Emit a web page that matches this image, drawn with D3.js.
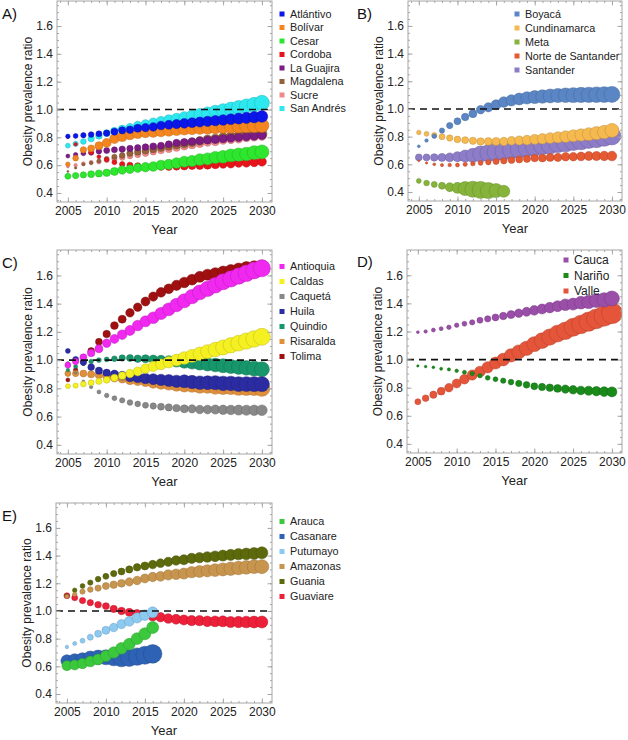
<!DOCTYPE html>
<html><head><meta charset="utf-8">
<script src="https://cdn.jsdelivr.net/npm/d3@7"></script>
<style>
body{margin:0;background:#fff;}
text{font-family:"Liberation Sans",Arial,sans-serif;}
</style></head>
<body><svg id="c" width="628" height="740"></svg>
<script>
// ---------- DATA ----------
const years = [2005,2006,2007,2008,2009,2010,2011,2012,2013,2014,2015,2016,2017,2018,2019,2020,2021,2022,2023,2024,2025,2026,2027,2028,2029,2030];
const yearsShort = [2005,2006,2007,2008,2009,2010,2011,2012,2013,2014,2015,2016];
const yTicks = [0.4,0.6,0.8,1.0,1.2,1.4,1.6];
const xTicks = [2005,2010,2015,2020,2025,2030];

// Panel A
const atlanticoVal = [0.807,0.81,0.815,0.82,0.825,0.83,0.84,0.85,0.855,0.865,0.87,0.875,0.885,0.89,0.895,0.9,0.905,0.91,0.915,0.92,0.925,0.93,0.935,0.94,0.945,0.95];
const atlanticoW = [5,6,7,8,9,10,12,13,14,16,17,18,19,20,21,23,24,25,26,27,28,29,30,31,32,34];
const bolivarVal = [0.607,0.65,0.71,0.72,0.74,0.76,0.79,0.805,0.82,0.83,0.837,0.84,0.845,0.85,0.855,0.86,0.863,0.866,0.869,0.872,0.875,0.877,0.879,0.881,0.883,0.885];
const bolivarW = [5,8,10,12,16,20,23,25,27,29,30,31,32,34,35,36,37,38,40,41,42,44,45,46,48,49];
const cesarVal = [0.52,0.525,0.53,0.535,0.54,0.545,0.555,0.565,0.57,0.58,0.585,0.59,0.6,0.605,0.615,0.625,0.63,0.64,0.645,0.655,0.66,0.67,0.675,0.68,0.69,0.695];
const cesarW = [9,10,10,12,13,14,16,18,18,20,22,23,25,26,28,30,31,34,36,37,40,41,44,45,48,49];
const cordobaVal = [0.8,0.75,0.71,0.69,0.66,0.64,0.62,0.607,0.6,0.595,0.593,0.59,0.588,0.587,0.59,0.592,0.595,0.597,0.6,0.603,0.607,0.61,0.615,0.617,0.62,0.625];
const cordobaW = [2,3,5,5,4,5,6,7,9,10,10,11,12,12,13,14,14,15,16,16,17,18,18,19,19,20];
const guajiraVal = [0.665,0.675,0.685,0.69,0.7,0.705,0.71,0.715,0.72,0.725,0.73,0.735,0.74,0.75,0.76,0.765,0.77,0.775,0.78,0.785,0.79,0.795,0.8,0.805,0.81,0.815];
const guajiraW = [4,5,6,7,8,9,9,10,10,10,11,12,12,12,13,14,14,14,15,16,16,17,17,18,18,18];
const magdalenaVal = [0.555,0.58,0.605,0.615,0.63,0.645,0.66,0.67,0.685,0.695,0.705,0.715,0.725,0.735,0.745,0.755,0.765,0.775,0.785,0.79,0.8,0.805,0.81,0.815,0.82,0.825];
const magdalenaW = [1,1.4,2,3,4,6,7,8,10,11,12,13,14,15,16,18,18,19,20,21,22,23,23,24,25,25];
const sucreVal = [0.59,0.6,0.61,0.62,0.625,0.635,0.645,0.655,0.665,0.675,0.685,0.695,0.705,0.715,0.725,0.735,0.745,0.755,0.765,0.77,0.78,0.785,0.79,0.8,0.805,0.81];
const sucreW = [2,3,4,4,5,6,7,8,8,9,10,10,11,12,13,14,15,16,17,18,18,18,19,19,20,20];
const sanAndresVal = [0.74,0.753,0.77,0.79,0.81,0.83,0.845,0.86,0.87,0.885,0.895,0.905,0.915,0.925,0.935,0.945,0.955,0.965,0.975,0.985,0.995,1.005,1.015,1.025,1.035,1.048];
const sanAndresW = [6,7,8,10,11,12,14,15,17,18,20,22,24,26,28,30,32,35,37,40,42,45,48,50,53,56];

// Panel B
const boyacaVal = [0.73,0.772,0.803,0.844,0.88,0.911,0.942,0.966,0.995,1.012,1.03,1.05,1.062,1.072,1.08,1.086,1.09,1.094,1.097,1.099,1.1,1.101,1.102,1.103,1.104,1.105];
const boyacaW = [2,3,5,7,10,12,14,16,18,21,25,28,31,35,38,42,45,48,50,53,56,58,59,61,62,64];
const cundinamarcaVal = [0.83,0.82,0.81,0.8,0.79,0.78,0.775,0.77,0.765,0.765,0.765,0.765,0.77,0.772,0.775,0.78,0.785,0.79,0.795,0.8,0.806,0.812,0.818,0.825,0.833,0.845];
const cundinamarcaW = [5,6,7,9,10,11,12,13,14,15,16,18,19,21,23,25,27,29,31,34,36,38,41,44,46,49];
const metaVal = [0.48,0.465,0.455,0.445,0.435,0.43,0.425,0.42,0.415,0.41,0.41,0.405];
const metaW = [6,8,9,12,20,30,49,64,72,64,49,36];
const norteVal = [0.625,0.61,0.6,0.595,0.595,0.595,0.6,0.605,0.61,0.615,0.62,0.625,0.63,0.635,0.64,0.645,0.645,0.65,0.65,0.655,0.655,0.657,0.66,0.66,0.66,0.66];
const norteW = [1,1.4,2,2.6,3.2,4,4.4,5,6,7,9,10,11,12,13,14,15,16,17,18,18,19,20,21,22,23];
const santanderVal = [0.65,0.65,0.65,0.65,0.65,0.655,0.66,0.665,0.675,0.68,0.69,0.695,0.705,0.71,0.72,0.725,0.735,0.74,0.75,0.755,0.765,0.77,0.78,0.785,0.795,0.805];
const santanderW = [12,12,14,16,20,25,36,49,64,72,81,81,81,81,81,81,81,81,81,81,81,81,81,81,81,81];

// Panel C
const antioquiaVal = [0.965,0.99,1.02,1.05,1.08,1.12,1.15,1.18,1.21,1.245,1.275,1.3,1.33,1.36,1.39,1.42,1.45,1.48,1.505,1.53,1.555,1.575,1.595,1.615,1.635,1.65];
const antioquiaW = [9,10,12,14,16,18,20,23,25,28,30,34,37,41,45,49,52,55,58,61,64,66,67,69,71,72];
const caldasVal = [0.815,0.82,0.83,0.84,0.85,0.86,0.875,0.89,0.905,0.92,0.94,0.955,0.97,0.985,1.0,1.015,1.03,1.045,1.06,1.075,1.09,1.105,1.12,1.135,1.15,1.165];
const caldasW = [6,7,8,9,10,11,13,15,18,20,23,26,29,32,36,40,42,46,49,53,56,59,62,66,69,72];
const caquetaVal = [0.98,0.91,0.85,0.81,0.775,0.75,0.73,0.715,0.7,0.69,0.68,0.675,0.67,0.665,0.66,0.655,0.655,0.65,0.65,0.65,0.648,0.647,0.646,0.645,0.645,0.645];
const caquetaW = [2,2,2,3,4,5,6,7,8,8,9,10,12,13,14,16,17,18,19,21,22,23,25,26,27,28];
const huilaVal = [1.065,1.005,0.985,0.95,0.925,0.91,0.9,0.89,0.88,0.875,0.87,0.865,0.86,0.855,0.85,0.85,0.845,0.84,0.84,0.84,0.835,0.835,0.83,0.83,0.83,0.83];
const huilaW = [6,9,10,11,13,14,17,19,22,25,28,30,32,36,38,42,44,46,48,50,53,53,55,55,56,56];
const quindioVal = [0.93,0.955,0.975,0.99,1.0,1.005,1.01,1.015,1.015,1.01,1.01,1.005,1.0,0.995,0.99,0.985,0.98,0.975,0.97,0.965,0.96,0.955,0.95,0.945,0.94,0.935];
const quindioW = [3,4,4,5,6,6,8,10,12,14,16,19,23,27,31,36,38,41,44,46,49,50,52,53,55,56];
const risaraldaVal = [0.905,0.905,0.905,0.9,0.895,0.885,0.875,0.87,0.86,0.855,0.85,0.84,0.835,0.83,0.825,0.82,0.82,0.815,0.815,0.81,0.81,0.81,0.805,0.805,0.805,0.8];
const risaraldaW = [9,10,12,13,14,16,18,20,23,25,28,30,34,36,40,42,45,48,50,53,56,58,59,61,62,64];
const tolimaVal = [0.86,0.93,0.99,1.065,1.13,1.185,1.245,1.29,1.335,1.375,1.415,1.45,1.48,1.505,1.53,1.55,1.57,1.59,1.605,1.615,1.625,1.635,1.645,1.655,1.66,1.665];
const tolimaW = [4,5,8,11,12,14,15,16,18,18,20,21,23,24,26,28,29,30,31,32,34,35,36,37,38,40];

// Panel D
const caucaVal = [1.195,1.2,1.21,1.22,1.23,1.245,1.255,1.265,1.28,1.29,1.3,1.31,1.32,1.33,1.34,1.35,1.36,1.37,1.38,1.39,1.395,1.405,1.41,1.42,1.425,1.435];
const caucaW = [2,3,4,4,5,5,6,7,9,10,12,14,16,18,20,23,25,28,30,34,36,40,44,48,52,56];
const narinoVal = [0.955,0.95,0.945,0.935,0.93,0.92,0.91,0.9,0.885,0.87,0.86,0.85,0.84,0.83,0.82,0.81,0.805,0.8,0.795,0.79,0.785,0.78,0.778,0.775,0.772,0.77];
const narinoW = [1.4,1.7,2,2.3,2.6,3.2,4,4.4,4.8,5.8,6,7,8,10,11,12,13,14,15,17,18,19,21,22,24,25];
const valleVal = [0.7,0.725,0.75,0.775,0.8,0.83,0.86,0.89,0.915,0.945,0.975,1.0,1.03,1.055,1.08,1.11,1.135,1.16,1.185,1.205,1.23,1.25,1.27,1.29,1.31,1.33];
const valleW = [9,11,13,15,18,20,23,26,29,32,36,40,44,48,52,56,61,66,71,76,81,86,92,98,104,110];

// Panel E
const araucaVal = [0.605,0.61,0.62,0.635,0.65,0.675,0.7,0.73,0.76,0.8,0.835,0.88];
const araucaW = [25,25,27,29,30,31,32,34,34,35,36,36];
const casanareVal = [0.64,0.645,0.65,0.66,0.665,0.665,0.66,0.655,0.66,0.67,0.68,0.69];
const casanareW = [36,40,44,48,52,56,61,66,71,76,81,86];
const putumayoVal = [0.74,0.765,0.785,0.81,0.835,0.86,0.88,0.905,0.925,0.95,0.97,0.99];
const putumayoW = [3,4,6,9,12,16,18,21,24,26,28,30];
const amazonasVal = [1.105,1.12,1.14,1.155,1.165,1.18,1.19,1.2,1.21,1.22,1.235,1.245,1.25,1.26,1.265,1.27,1.28,1.285,1.29,1.295,1.3,1.305,1.31,1.315,1.32,1.32];
const amazonasW = [4,5,7,8,10,12,14,15,17,18,20,22,24,26,28,30,32,35,37,40,42,44,45,46,48,49];
const guaniaVal = [1.11,1.15,1.18,1.205,1.23,1.25,1.27,1.285,1.3,1.315,1.325,1.335,1.345,1.355,1.365,1.37,1.38,1.385,1.39,1.395,1.4,1.405,1.41,1.412,1.415,1.42];
const guaniaW = [4,5,6,7,8,9,10,12,13,14,16,18,19,21,23,25,26,27,28,29,30,31,32,34,35,36];
const guaviareVal = [1.11,1.095,1.075,1.06,1.045,1.035,1.015,1.0,0.99,0.98,0.97,0.96,0.955,0.945,0.94,0.935,0.93,0.93,0.925,0.925,0.925,0.92,0.92,0.92,0.92,0.92];
const guaviareW = [9,9,10,10,11,12,13,14,16,18,20,21,22,23,24,25,26,27,28,29,30,31,32,34,35,36];

// ---------- CHART ----------
const svg = d3.select("#c");
const rScale = d3.scaleSqrt().domain([0,100]).range([0,10]);

const panels = [
 {label:"A)", lx:2, ly:19, left:57, top:1, right:272, bottom:202,
  legend:{x:282, y:14, dy:13.5, fs:10.8},
  series:[
   ["Atlántivo", atlanticoVal, atlanticoW, years, "#0b16e8"],
   ["Bolívar", bolivarVal, bolivarW, years, "#f5861f"],
   ["Cesar", cesarVal, cesarW, years, "#2ee62e"],
   ["Cordoba", cordobaVal, cordobaW, years, "#e8141a"],
   ["La Guajira", guajiraVal, guajiraW, years, "#7c1b84"],
   ["Magdalena", magdalenaVal, magdalenaW, years, "#94623a"],
   ["Sucre", sucreVal, sucreW, years, "#f0888a"],
   ["San Andrés", sanAndresVal, sanAndresW, years, "#2ee8f0"]]},
 {label:"B)", lx:357, ly:19, left:408, top:1, right:622, bottom:201,
  legend:{x:517, y:14, dy:14, fs:10.8},
  series:[
   ["Boyacá", boyacaVal, boyacaW, years, "#5a86c5"],
   ["Cundinamarca", cundinamarcaVal, cundinamarcaW, years, "#f5b94f"],
   ["Meta", metaVal, metaW, yearsShort, "#86b43a"],
   ["Norte de Santander", norteVal, norteW, years, "#e55a33"],
   ["Santander", santanderVal, santanderW, years, "#8d7cc8"]]},
 {label:"C)", lx:2, ly:268, left:57, top:250, right:272, bottom:454,
  legend:{x:282, y:266.5, dy:15, fs:10.8},
  series:[
   ["Antioquia", antioquiaVal, antioquiaW, years, "#f028f0"],
   ["Caldas", caldasVal, caldasW, years, "#f5f022"],
   ["Caquetá", caquetaVal, caquetaW, years, "#888888"],
   ["Huila", huilaVal, huilaW, years, "#2c2ca2"],
   ["Quindio", quindioVal, quindioW, years, "#17966b"],
   ["Risaralda", risaraldaVal, risaraldaW, years, "#e0903a"],
   ["Tolima", tolimaVal, tolimaW, years, "#a01010"]]},
 {label:"D)", lx:357, ly:267, left:407, top:250, right:622, bottom:453,
  legend:{x:566, y:260, dy:15.5, fs:12},
  series:[
   ["Cauca", caucaVal, caucaW, years, "#9a4ea8"],
   ["Nariño", narinoVal, narinoW, years, "#1a8a1a"],
   ["Valle", valleVal, valleW, years, "#e5553a"]]},
 {label:"E)", lx:2, ly:521, left:56, top:503, right:272, bottom:703,
  legend:{x:282, y:521.5, dy:15, fs:10.8},
  series:[
   ["Arauca", araucaVal, araucaW, yearsShort, "#3cc83c"],
   ["Casanare", casanareVal, casanareW, yearsShort, "#2e62b4"],
   ["Putumayo", putumayoVal, putumayoW, yearsShort, "#8ccaf2"],
   ["Amazonas", amazonasVal, amazonasW, years, "#c8954e"],
   ["Guania", guaniaVal, guaniaW, years, "#5d6a0c"],
   ["Guaviare", guaviareVal, guaviareW, years, "#ec2038"]]}
];

const minorY = d3.range(0.35, 1.78, 0.05).map(v=>+v.toFixed(2));
const minorX = d3.range(2004, 2032, 1);
const frameCol = "#a6a6a6";

panels.forEach(p=>{
  const g = svg.append("g");
  const x = d3.scaleLinear().domain([2003.6, 2031.3]).range([p.left, p.right]);
  const y = d3.scaleLinear().domain([0.335, 1.78]).range([p.bottom, p.top]);

  const clip = "clip"+p.label[0];
  svg.append("clipPath").attr("id",clip).append("rect")
    .attr("x",p.left).attr("y",p.top).attr("width",p.right-p.left).attr("height",p.bottom-p.top);
  const bg = g.append("g").attr("clip-path",`url(#${clip})`);

  // series drawn in reverse legend order (first legend entry on top)
  p.series.slice().reverse().forEach(s=>{
    const pts = s[1].map((v,i)=>({yr:s[3][i], v:v, w:s[2][i]}));
    bg.append("g").selectAll("circle").data(pts).join("circle")
      .attr("cx",d=>x(d.yr)).attr("cy",d=>y(d.v)).attr("r",d=>rScale(d.w))
      .attr("fill",s[4])
      .attr("stroke",d3.color(s[4]).darker(0.7))
      .attr("stroke-width",0.5);
  });

  // dashed reference line (on top of bubbles)
  bg.append("line").attr("x1",p.left).attr("x2",p.right)
    .attr("y1",y(1)).attr("y2",y(1))
    .attr("stroke","#111").attr("stroke-width",1.6).attr("stroke-dasharray","7,5");

  // frame
  g.append("rect").attr("x",p.left).attr("y",p.top)
    .attr("width",p.right-p.left).attr("height",p.bottom-p.top)
    .attr("fill","none").attr("stroke",frameCol).attr("stroke-width",1);

  function axisDraw(axisFn, scale, transform, vals, size, labels){
    const a = axisFn(scale).tickValues(vals).tickSize(-size).tickPadding(4);
    if(!labels) a.tickFormat("");
    else a.tickFormat(d3.format(scale===x? "d" : ".1f"));
    const ag = g.append("g").attr("transform",transform).call(a);
    ag.select(".domain").remove();
    ag.selectAll("line").attr("stroke",frameCol);
    ag.selectAll("text").attr("fill","#222").style("font-size","12px").style("font-family","'Liberation Sans',Arial,sans-serif");
    return ag;
  }
  const mY = minorY.filter(v=>y(v)>=p.top && y(v)<=p.bottom);
  const mX = minorX.filter(v=>x(v)>=p.left && x(v)<=p.right);
  axisDraw(d3.axisLeft, y, `translate(${p.left},0)`, mY, 2, false);
  axisDraw(d3.axisRight, y, `translate(${p.right},0)`, mY, 2, false);
  axisDraw(d3.axisBottom, x, `translate(0,${p.bottom})`, mX, 2, false);
  axisDraw(d3.axisTop, x, `translate(0,${p.top})`, mX, 2, false);
  axisDraw(d3.axisLeft, y, `translate(${p.left},0)`, yTicks, 4.5, true);
  axisDraw(d3.axisRight, y, `translate(${p.right},0)`, yTicks, 4.5, false);
  axisDraw(d3.axisBottom, x, `translate(0,${p.bottom})`, xTicks, 4.5, true);
  axisDraw(d3.axisTop, x, `translate(0,${p.top})`, xTicks, 4.5, false);

  // axis titles
  const cy = (p.top+p.bottom)/2;
  g.append("text").attr("transform",`translate(${p.left-25},${cy}) rotate(-90)`)
    .attr("text-anchor","middle").attr("font-size",12).attr("fill","#222")
    .text("Obesity prevalence ratio");
  g.append("text").attr("x",(p.left+p.right)/2).attr("y",p.bottom+32)
    .attr("text-anchor","middle").attr("font-size",13).attr("fill","#222").text("Year");
  g.append("text").attr("x",p.lx).attr("y",p.ly).attr("font-size",15).attr("fill","#111").text(p.label);

  // legend
  const L = p.legend;
  const lg = g.append("g");
  p.series.forEach((s,i)=>{
    const yy = L.y + i*L.dy;
    lg.append("rect").attr("x",L.x-2.5).attr("y",yy-2.5).attr("width",5).attr("height",5).attr("fill",s[4]);
    lg.append("text").attr("x",L.x+8).attr("y",yy).attr("dy","0.35em")
      .attr("font-size",L.fs).attr("fill","#222").text(s[0]);
  });
});
</script></body></html>
